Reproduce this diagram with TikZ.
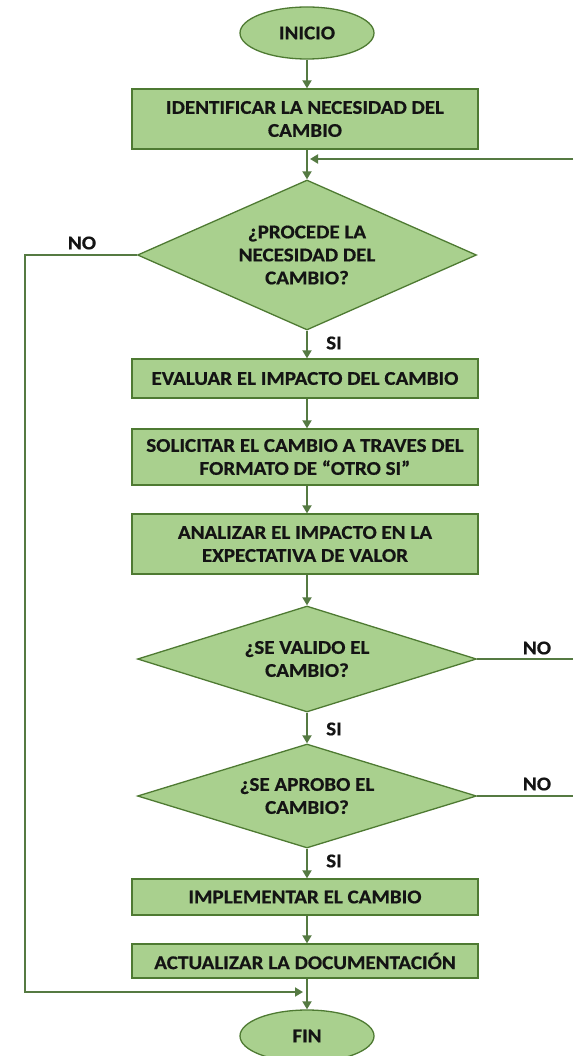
\documentclass[tikz,border=0pt]{standalone}
\usepackage{fontspec}
\setmainfont{Carlito}
\newfontfamily\diafont{Carlito}[UprightFont={* Bold}, FakeStretch=1.08, FakeBold=0.6]
\usetikzlibrary{shapes.geometric,arrows.meta}
\definecolor{boxfill}{HTML}{A9D08E}
\definecolor{boxline}{HTML}{4E7A32}
\definecolor{arrline}{HTML}{557A42}
\definecolor{txt}{HTML}{141414}
\tikzset{
  base/.style={draw=boxline, line width=1.3pt, fill=boxfill, text=txt,
    font=\diafont\fontsize{19.5}{23}\selectfont, align=center, inner sep=0pt},
  procbox/.style={base, rectangle, minimum width=346pt},
  termbox/.style={base, ellipse, minimum width=134pt, minimum height=52pt},
  decbox/.style={base, diamond, minimum width=339pt, aspect=2},
  flow/.style={draw=arrline, line width=1.8pt, -{Triangle[width=9pt,length=8pt]}},
  plain/.style={draw=arrline, line width=1.8pt},
  lbl/.style={font=\diafont\fontsize{19.5}{23}\selectfont, text=txt, inner sep=0pt}
}
\begin{document}
\begin{tikzpicture}[x=1pt,y=-1pt]
\useasboundingbox (0,0) rectangle (573,1056);
\node[termbox] (inicio) at (307,33) {INICIO};
\node[procbox, minimum height=60pt] (b1) at (305,119) {IDENTIFICAR LA NECESIDAD DEL\\CAMBIO};
\node[decbox, minimum height=150pt] (d1) at (307,255) {¿PROCEDE LA\\NECESIDAD DEL\\CAMBIO?};
\node[procbox, minimum height=39pt] (b2) at (305,378.5) {EVALUAR EL IMPACTO DEL CAMBIO};
\node[procbox, minimum height=56pt] (b3) at (305,457) {SOLICITAR EL CAMBIO A TRAVES DEL\\FORMATO DE “OTRO SI”};
\node[procbox, minimum height=60pt] (b4) at (305,544) {ANALIZAR EL IMPACTO EN LA\\EXPECTATIVA DE VALOR};
\node[decbox, minimum height=106pt] (d2) at (307,659) {¿SE VALIDO EL\\CAMBIO?};
\node[decbox, minimum height=104pt] (d3) at (307,796) {¿SE APROBO EL\\CAMBIO?};
\node[procbox, minimum height=36pt] (b5) at (305,897) {IMPLEMENTAR EL CAMBIO};
\node[procbox, minimum height=34pt] (b6) at (305,961) {ACTUALIZAR LA DOCUMENTACIÓN};
\node[termbox] (fin) at (307,1036) {FIN};

\coordinate (fbR) at (573,159);
\coordinate (fbT) at (310,159);
\coordinate (noL) at (25,255);
\coordinate (noB) at (25,992);
\coordinate (finT) at (303,992);
\coordinate (d2R) at (573,659);
\coordinate (d3R) at (573,796);

\draw[flow] (inicio.south) -- (inicio.south |- b1.north);
\draw[flow] (b1.south -| inicio.south) -- (d1.north);
\draw[flow] (fbR) -- (fbT);
\draw[flow] (d1.south) -- (d1.south |- b2.north);
\draw[flow] (b2.south -| d1.south) -- (d1.south |- b3.north);
\draw[flow] (b3.south -| d1.south) -- (d1.south |- b4.north);
\draw[flow] (b4.south -| d1.south) -- (d2.north);
\draw[flow] (d2.south) -- (d3.north);
\draw[flow] (d3.south) -- (d3.south |- b5.north);
\draw[flow] (b5.south -| d3.south) -- (d3.south |- b6.north);
\draw[flow] (b6.south -| d3.south) -- (fin.north);
\draw[flow] (d1.west) -- (noL) -- (noB) -- (finT);
\draw[plain] (d2.east) -- (d2R);
\draw[plain] (d3.east) -- (d3R);

\node[lbl] (no1) at (82,243) {NO};
\node[lbl] (si1) at (334,343) {SI};
\node[lbl] (no2) at (537,648) {NO};
\node[lbl] (si2) at (334,729) {SI};
\node[lbl] (no3) at (537,784) {NO};
\node[lbl] (si3) at (334,861) {SI};
\end{tikzpicture}
\end{document}
